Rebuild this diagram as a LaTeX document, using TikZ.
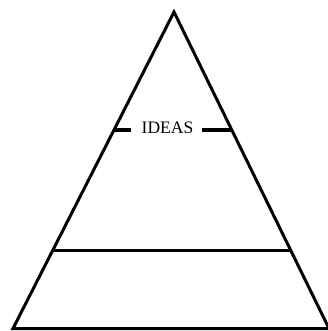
\documentclass[tikz,border=0pt]{standalone}
\usepackage{fontspec}
\setmainfont{Liberation Serif}
\usetikzlibrary{calc}
\begin{document}
\begin{tikzpicture}[x=1pt,y=-1pt,
  edge/.style={line width=3pt, line join=miter},
  label/.style={font=\fontsize{17.5}{19}\selectfont, inner sep=0pt}]
\useasboundingbox (0,0) rectangle (327,331);
\coordinate (apex) at (174,12);
\coordinate (bl) at (13,328.5);
\coordinate (br) at (329,328.5);
\draw[edge] (apex) -- (bl) -- (br) -- cycle;
% lower band
\coordinate (ml) at ($(apex)!0.752!(bl)$);
\coordinate (mr) at ($(apex)!0.752!(br)$);
\draw[edge] (ml) -- (mr);
% IDEAS level
\coordinate (il) at ($(apex)!0.373!(bl)$);
\coordinate (ir) at ($(apex)!0.373!(br)$);
\node[label] (ideas) at (167.5,127.5) {IDEAS};
\coordinate (tl) at (131,130);
\coordinate (tr) at (202,130);
\draw[edge] (il |- tl) -- (tl);
\draw[edge] (tr) -- (ir |- tr);
\end{tikzpicture}
\end{document}
